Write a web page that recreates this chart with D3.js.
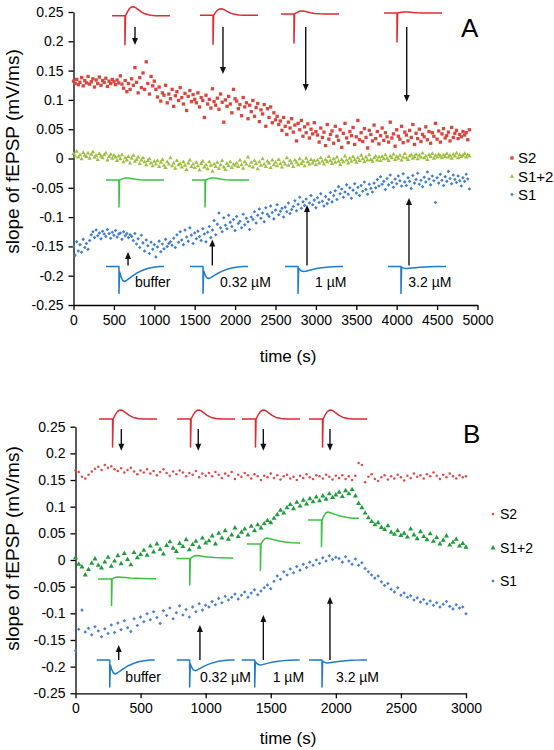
<!DOCTYPE html>
<html><head><meta charset="utf-8">
<script src="https://cdn.jsdelivr.net/npm/d3@7"></script>
<style>body{margin:0;background:#fff}</style>
</head><body>
<svg id="chart" width="554" height="750"></svg>
<script>
// ---------------- DATA ----------------
// Panel A: one sample every 20 s, starting at 0 s
const sampleStepA = 20;
const s2A = [
.132,.128,.135,.126,.130,.138,.124,.133,.129,.140,.127,.131,.136,.122,.134,.128,.139,.125,.133,.130,.137,.123,.132,.128,.135,.131,.126,.134,.129,.141,
.127,.120,.133,.114,.128,.118,.136,.125,.155,.130,.112,.138,.121,.146,.118,.165,.128,.110,.140,.124,.132,
.118,.105,.122,.098,.112,.108,.125,.095,.110,.102,.118,.089,.107,.114,.099,.121,.104,.093,.111,.082,.106,.116,.097,.109,.101,
.095,.112,.088,.104,.099,.070,.108,.093,.101,.086,.119,.097,.091,.103,.084,.110,.096,.062,.100,.089,.106,.093,.078,.118,.102,
.098,.085,.092,.073,.104,.088,.095,.068,.091,.080,.099,.072,.087,.094,.063,.083,.076,.092,.055,.085,.070,.088,.061,.078,.066,
.072,.058,.064,.048,.070,.055,.041,.062,.052,.068,.045,.057,.030,.060,.049,.065,.038,.054,.044,.059,.035,.050,.042,.061,.046,
.040,.028,.052,.036,.045,.022,.058,.033,.041,.047,.026,.055,.038,.031,.049,.019,.043,.060,.035,.027,
.046,.039,.053,.024,.037,.065,.032,.044,.029,.051,.036,.018,.048,.041,.030,.057,.034,.046,.025,.039,
.052,.031,.044,.037,.028,.062,.035,.042,.021,.049,.038,.033,.055,.027,.045,.040,.030,.048,.036,.058,
.024,.043,.034,.050,.029,.041,.037,.054,.032,.046,.026,.044,.038,.060,.033,.047,.028,.042,.051,.035,
.039,.045,.030,.053,.036,.043,.048,.034,.041,.037,.046,.040,.044,.032,.049
];
const s12A = [
.008,.004,.012,.002,.006,-.001,.010,.005,.003,.009,.000,.007,.011,.002,.005,-.002,.008,.004,.001,.006,.009,-.003,.003,.007,.000,.005,
.002,-.004,.004,-.001,.006,-.006,.001,-.003,.003,-.008,.000,.005,-.005,-.002,.002,-.009,-.003,.001,-.006,-.011,-.004,-.001,-.008,-.013,-.005,
-.010,-.004,-.014,-.007,-.002,-.012,-.016,-.006,-.010,.001,-.013,-.008,-.017,-.004,-.011,-.009,-.015,-.006,-.012,-.019,-.008,-.003,-.014,-.010,-.016,
-.007,-.013,-.020,-.009,-.005,-.015,-.011,-.018,-.006,-.012,-.022,-.010,-.014,-.007,-.017,-.011,-.004,-.015,-.019,-.009,-.013,-.006,-.016,-.010,-.012,
-.008,-.014,-.003,-.011,-.017,-.006,-.010,.002,-.013,-.007,-.015,-.004,-.009,-.018,-.006,-.012,-.001,-.010,-.014,-.005,-.008,-.016,-.003,-.011,-.007,
-.013,-.002,-.009,-.015,-.006,-.010,.001,-.012,-.004,-.008,-.014,-.003,-.007,-.011,-.001,-.009,-.005,-.013,.000,-.006,-.010,-.002,-.008,-.004,-.011,
-.003,-.008,.001,-.005,-.010,-.002,-.006,.003,-.004,-.009,-.001,-.007,.002,-.005,-.011,-.002,-.006,.004,-.003,-.008,
.000,-.005,.003,-.002,-.007,.001,-.004,.005,-.001,-.006,.002,-.003,.006,-.002,-.005,.001,.004,-.003,.002,-.004,
.003,-.001,.006,.000,-.004,.004,.001,.007,-.002,.003,.000,.005,-.003,.002,.008,.001,-.002,.004,.006,.000,
.003,.007,-.001,.005,.002,.009,.001,.004,-.002,.006,.003,.008,.000,.005,.002,.007,.004,.001,.006,.003,
.008,.002,.005,.000,.007,.004,.009,.001,.006,.003,.005,.008,.002,.006,.004
];
const s1A = [
-.150,-.165,-.142,-.158,-.147,-.160,-.138,-.152,-.145,-.155,-.140,
-.130,-.125,-.135,-.122,-.132,-.127,-.137,-.124,-.129,-.133,-.121,-.128,-.136,-.126,-.131,-.123,-.134,-.129,-.127,-.138,-.125,-.132,-.128,-.135,-.130,
-.133,-.140,-.128,-.146,-.137,-.152,-.131,-.144,-.158,-.139,-.149,-.162,-.143,-.155,-.147,-.168,-.151,-.141,-.159,-.146,-.154,-.138,-.150,-.145,-.142,
-.148,-.136,-.152,-.130,-.143,-.125,-.139,-.147,-.122,-.134,-.141,-.118,-.131,-.145,-.127,-.137,-.124,-.133,-.140,-.120,-.129,-.142,-.126,-.116,-.135,
-.122,-.106,-.130,-.112,-.093,-.118,-.125,-.101,-.114,-.120,-.097,-.109,-.116,-.104,-.123,-.099,-.111,-.107,-.118,-.095,-.113,-.102,-.108,-.121,-.100,
-.104,-.091,-.110,-.097,-.086,-.102,-.093,-.108,-.084,-.095,-.099,-.081,-.092,-.103,-.088,-.079,-.096,-.090,-.085,-.100,-.083,-.091,-.076,-.094,-.087,
-.082,-.072,-.089,-.078,-.066,-.085,-.074,-.080,-.069,-.087,-.076,-.063,-.079,-.071,-.084,-.067,-.075,-.060,-.073,-.081,-.065,-.077,-.070,-.058,-.074,
-.063,-.055,-.070,-.048,-.060,-.052,-.066,-.057,-.045,-.061,-.050,-.068,-.054,-.043,-.059,-.049,-.063,-.046,-.056,-.040,-.053,-.061,-.044,-.051,-.057,
-.042,-.050,-.036,-.047,-.031,-.044,-.039,-.053,-.034,-.045,-.028,-.041,-.049,-.035,-.043,-.030,-.038,-.047,-.026,-.040,
-.046,-.033,-.039,-.051,-.029,-.042,-.036,-.025,-.044,-.037,-.048,-.032,-.040,-.023,-.035,-.045,-.030,-.038,-.075,-.033,
-.042,-.027,-.037,-.046,-.031,-.039,-.022,-.034,-.043,-.028,-.036,-.041,-.030,-.038,-.047,-.033,-.039,-.027,-.035,-.052
];

// Panel B: one sample every 25 s, starting at 0 s
const sampleStepB = 25;
const s2B = [
.168,.165,.156,.153,.160,.166,.171,.175,.169,.178,.173,
.176,.170,.167,.172,.164,.169,.173,.166,.161,.168,.164,.170,.162,.167,.159,.165,.170,.163,.158,.166,.161,.168,.164,.157,.163,.160,.167,.155,.162,.158,
.163,.157,.165,.160,.154,.162,.158,.165,.152,.160,.156,.163,.159,.153,.161,.157,.150,.158,.155,.162,.154,.159,.151,.157,.160,.153,.156,.150,.158,.154,.161,.155,.152,.159,.157,.153,.160,.156,.151,.158,
.154,.159,.152,.157,.150,.158,.182,.178,.146,.156,.161,.152,.148,.155,.159,.151,.157,.153,.160,.155,.149,.158,.154,.162,.156,.159,.153,.161,.157,.164,.158,.152,.160,.155,.162,.157,.153,.159,.155,.157
];
const s12B = [
.004,-.008,-.013,-.028,-.018,-.006,.002,-.010,-.015,
-.004,.005,-.012,-.002,.008,-.007,.012,.001,-.009,.014,.004,.010,
.018,.009,.026,.015,.030,.020,.011,.027,.034,.022,.016,.031,.025,.038,.019,.029,.035,.024,.041,.032,
.036,.045,.030,.050,.041,.055,.039,.047,.060,.044,.052,.058,.047,.063,.055,.066,.060,.068,.074,.070,
.078,.085,.093,.088,.098,.104,.096,.108,.101,.112,.105,.115,.109,.118,.111,.120,.114,.124,.117,.122,
.127,.119,.130,.124,.132,.120,.106,.098,.088,.079,
.072,.066,.070,.061,.057,.064,.052,.048,.055,.046,.050,.043,.058,.047,.040,.053,.044,.038,.049,.035,.042,.030,.037,.045,.028,.033,.039,.026,.031,.024
];
const s1B = [
-.170,-.130,-.094,-.135,-.128,-.140,-.125,-.133,-.144,
-.129,-.138,-.122,-.136,-.118,-.131,-.114,-.127,-.134,-.110,-.123,-.107,
-.116,-.101,-.112,-.097,-.108,-.119,-.095,-.104,-.090,-.110,-.099,-.086,-.103,-.093,-.107,-.088,-.097,-.082,-.094,-.085,
-.088,-.078,-.084,-.072,-.080,-.068,-.075,-.070,-.064,-.073,-.066,-.060,-.070,-.062,-.056,-.065,-.058,-.052,-.047,-.054,
-.040,-.030,-.036,-.022,-.028,-.017,-.024,-.012,-.019,-.008,-.014,-.004,-.010,.000,-.006,.004,-.002,.008,.001,.005,
.003,-.004,.006,-.002,-.008,.002,-.010,-.005,-.016,-.022,
-.028,-.034,-.030,-.041,-.048,-.044,-.055,-.060,-.052,-.066,-.062,-.070,-.067,-.075,-.071,-.079,-.074,-.082,-.077,-.085,-.080,-.088,-.083,-.078,-.087,-.092,-.084,-.090,-.088,-.101
];

const seriesNames = ["S2", "S1+2", "S1"];
const concLabels = ["buffer", "0.32 µM", "1 µM", "3.2 µM"];
const yTickValues = [-0.25,-0.2,-0.15,-0.1,-0.05,0,0.05,0.1,0.15,0.2,0.25];
const yTickLabels = ["-0.25","-0.2","-0.15","-0.1","-0.05","0","0.05","0.1","0.15","0.2","0.25"];
const xTickValuesA = [0,500,1000,1500,2000,2500,3000,3500,4000,4500,5000];
const xTickLabelsA = ["0","500","1000","1500","2000","2500","3000","3500","4000","4500","5000"];
const xTickValuesB = [0,500,1000,1500,2000,2500,3000];
const xTickLabelsB = ["0","500","1000","1500","2000","2500","3000"];

// ---------------- STYLE / LAYOUT ----------------
const FONT = "'Liberation Sans', Arial, Helvetica, sans-serif";
const RED_TRACE = "#de2a30", GREEN_TRACE = "#3cc042", BLUE_TRACE = "#1c7ad0";

// waveform templates (dx in px after the stimulus artifact, normalised amplitude)
const bumpFast = [[0,0],[2,0.45],[4,0.8],[6,0.97],[8,1],[10,0.9],[13,0.65],[16,0.4],[20,0.18],[25,0.06],[30,0]];
const bumpSlow = [[0,0],[2,0.55],[4,0.9],[6,1],[9,0.88],[13,0.7],[18,0.5],[24,0.34],[31,0.22],[38,0.15],[45,0.1]];
const trough   = [[0,0.35],[1.5,0.7],[3,0.92],[5,1],[7,0.93],[10,0.78],[14,0.58],[18,0.41],[23,0.25],[28,0.13],[34,0.05],[40,0]];

const panels = [
  {
    xDomain:[0,5000], xRange:[73.5,477.5], yRange:[305,12],
    xTicks:xTickValuesA, xLabels:xTickLabelsA, step:sampleStepA,
    data:[s2A, s12A, s1A],
    marks:[
      {color:"#d8463d", type:d3.symbolSquare, size:11},
      {color:"#9cc03e", type:d3.symbolTriangle, size:8},
      {color:"#3d7ecf", type:d3.symbolDiamond2, size:8}
    ],
    letter:{text:"A", x:461, y:37},
    yTitleY:151.5, xTitleY:362,
    legend:{x:512, tx:518, ys:[158,176.5,194.5], size:15},
    redArrows:{t:[761,1850,2874,4124], from:0.2244, to:[0.1937,0.1442,0.1152,0.0964]},
    blueArrows:{t:[675,1718,2890,4152], from:-0.1826, to:[-0.1596,-0.1382,-0.0794,-0.0674]},
    redTraces:{t:[476,1566,2568,3843], v:[0.2437,0.2444,0.2466,0.2483], amp:[9,6.5,3,1], w:58, art:13, artLen:29},
    greenTraces:{t:[402,1467], v:[-0.0367,-0.0367], amp:[2,2], w:[58,57], art:13, artLen:27, shape:bumpFast},
    blueTraces:{t:[402,1442,2618,3892], v:-0.1843, amp:[15,12,5,2], w:58, art:13, artLen:27},
    concLabels:{t:[761,1813,2989,4144], v:-0.2193}
  },
  {
    xDomain:[0,3000], xRange:[75.5,466], yRange:[693.3,426.7],
    xTicks:xTickValuesB, xLabels:xTickLabelsB, step:sampleStepB,
    data:[s2B, s12B, s1B],
    marks:[
      {color:"#e04a4a", type:d3.symbolCircle, size:5},
      {color:"#1f9a3d", type:d3.symbolTriangle, size:11},
      {color:"#4a80d0", type:d3.symbolDiamond2, size:8}
    ],
    letter:{text:"B", x:463, y:443},
    yTitleY:548.5, xTitleY:744,
    legend:{x:493, tx:500, ys:[514,548,581], size:14},
    redArrows:{t:[352,943,1443,1955], from:0.2456, to:[0.2050,0.2050,0.2050,0.2050]},
    blueArrows:{t:[332,956,1443,1955], from:-0.1875, to:[-0.1594,-0.1219,-0.1031,-0.0688]},
    redTraces:{t:[181,780,1279,1794], v:[0.2644,0.2644,0.2644,0.2644], amp:[9,9,9,9], w:58, art:13.5, artLen:28},
    greenTraces:{t:[173,774,1317,1786], v:[-0.0356,0.0028,0.0300,0.0750], amp:[2,3,6,8], w:[58,57,53,51], art:13.5, artLen:26.5, shape:bumpSlow},
    blueTraces:{t:[163,777,1277,1794], v:-0.1875, amp:[14,10.7,5,3], w:58, art:13, artLen:27},
    concLabels:{t:[383,956,1515,2001], v:-0.2297}
  }
];

// ---------------- DRAW ----------------
const svg = d3.select("#chart");
svg.append("rect").attr("width",554).attr("height",750).attr("fill","#fff");

function drawTrace(g, px, py, w, art, artLen, amp, shape, sign, color) {
  const pts = [[px,py],[px+art,py],[px+art,py+artLen],[px+art+0.6, py+sign*amp*shape[0][1]]];
  shape.forEach(([dx,s]) => { if (px+art+0.6+dx <= px+w) pts.push([px+art+0.6+dx, py+sign*amp*s]); });
  const last = pts[pts.length-1];
  if (last[0] < px+w) pts.push([px+w, last[1]]);
  g.append("path").attr("d", d3.line()(pts)).attr("fill","none")
    .attr("stroke",color).attr("stroke-width",1.5).attr("stroke-linejoin","round");
}

function drawArrow(g, x, y1, y2) {
  const dir = y2 > y1 ? 1 : -1;
  g.append("line").attr("x1",x).attr("x2",x).attr("y1",y1).attr("y2",y2 - dir*5)
    .attr("stroke","#111").attr("stroke-width",1.4);
  g.append("path").attr("d", `M${x-3},${y2-dir*7}L${x},${y2}L${x+3},${y2-dir*7}Z`).attr("fill","#111");
}

panels.forEach(p => {
  const x = d3.scaleLinear().domain(p.xDomain).range(p.xRange);
  const y = d3.scaleLinear().domain([-0.25,0.25]).range(p.yRange);
  const g = svg.append("g");

  // axes
  const ax = g.append("g").attr("transform",`translate(${p.xRange[0]},0)`)
    .call(d3.axisLeft(y).tickValues(yTickValues).tickFormat((d,i)=>yTickLabels[i]).tickSize(5).tickSizeOuter(0).tickPadding(5));
  const bx = g.append("g").attr("transform",`translate(0,${p.yRange[0]})`)
    .call(d3.axisBottom(x).tickValues(p.xTicks).tickFormat((d,i)=>p.xLabels[i]).tickSize(5).tickSizeOuter(0).tickPadding(5));
  [ax,bx].forEach(a => {
    a.selectAll("path,line").attr("stroke","#000").attr("stroke-width",1.3);
    a.selectAll("text").attr("font-family",FONT).attr("font-size",14).attr("fill","#000");
  });

  // titles
  g.append("text").attr("transform",`translate(18.5,${p.yTitleY}) rotate(-90)`)
    .attr("text-anchor","middle").attr("font-family",FONT).attr("font-size",19).text("slope of fEPSP (mV/ms)");
  g.append("text").attr("x",288).attr("y",p.xTitleY).attr("text-anchor","middle")
    .attr("font-family",FONT).attr("font-size",17).text("time (s)");
  g.append("text").attr("x",p.letter.x).attr("y",p.letter.y)
    .attr("font-family",FONT).attr("font-size",26).text(p.letter.text);

  // scatter series
  p.data.forEach((vals, si) => {
    const m = p.marks[si];
    g.append("g").selectAll("path").data(vals).join("path")
      .attr("transform",(d,i)=>`translate(${x(i*p.step)},${y(d)})`)
      .attr("d", d3.symbol(m.type, m.size)())
      .attr("fill", m.color);
  });

  // legend
  seriesNames.forEach((name, i) => {
    const m = p.marks[i];
    g.append("path").attr("transform",`translate(${p.legend.x},${p.legend.ys[i]})`)
      .attr("d", d3.symbol(m.type, m.size)()).attr("fill", m.color);
    g.append("text").attr("x",p.legend.tx).attr("y",p.legend.ys[i]).attr("dy","0.36em")
      .attr("font-family",FONT).attr("font-size",p.legend.size).text(name);
  });

  // inset waveforms
  const rt = p.redTraces;
  rt.t.forEach((t,i) => drawTrace(g, x(t), y(rt.v[i]), rt.w, rt.art, rt.artLen, rt.amp[i], bumpFast, -1, RED_TRACE));
  const gt = p.greenTraces;
  gt.t.forEach((t,i) => drawTrace(g, x(t), y(gt.v[i]), gt.w[i], gt.art, gt.artLen, gt.amp[i], gt.shape, -1, GREEN_TRACE));
  const bt = p.blueTraces;
  bt.t.forEach((t,i) => drawTrace(g, x(t), y(bt.v), bt.w, bt.art, bt.artLen, bt.amp[i], trough, 1, BLUE_TRACE));

  // arrows
  p.redArrows.t.forEach((t,i) => drawArrow(g, x(t), y(p.redArrows.from), y(p.redArrows.to[i])));
  p.blueArrows.t.forEach((t,i) => drawArrow(g, x(t), y(p.blueArrows.from), y(p.blueArrows.to[i])));

  // concentration labels
  concLabels.forEach((lab,i) => {
    g.append("text").attr("x", x(p.concLabels.t[i])).attr("y", y(p.concLabels.v))
      .attr("font-family",FONT).attr("font-size",14).text(lab);
  });
});
</script>
</body></html>
